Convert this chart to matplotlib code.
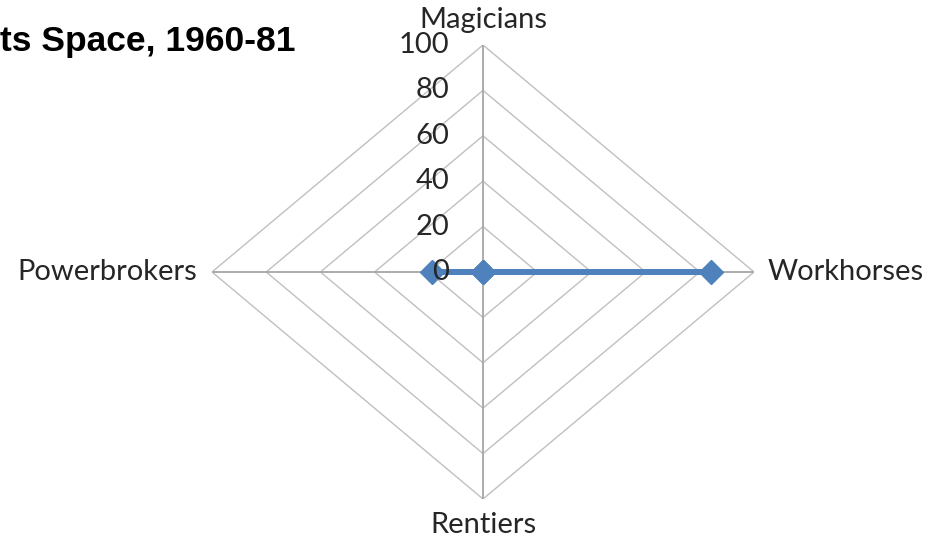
import numpy as np
import matplotlib
matplotlib.use("Agg")
import matplotlib.pyplot as plt

# axis names, clockwise from the top
categories = ["Magicians", "Workhorses", "Rentiers", "Powerbrokers"]
values = [0, 84, 0, 19]
ring_levels = [20, 40, 60, 80, 100]
tick_labels = ["0", "20", "40", "60", "80", "100"]

label_font = "Lato"
label_size = 21
grid_color = "#c0c0c0"
spoke_color = "#a6a6a6"
series_color = "#4f81bd"
text_color = "#262626"

fig = plt.figure(figsize=(9.32, 5.42), dpi=100)
ax = fig.add_axes([212 / 932, 43 / 542, 542 / 932, 454 / 542])
ax.set_xlim(-100, 100)
ax.set_ylim(-100, 100)
ax.axis("off")

# angles: top, right, bottom, left
angles = np.pi / 2 - np.arange(len(categories)) * 2 * np.pi / len(categories)
ux, uy = np.cos(angles), np.sin(angles)
ux[np.abs(ux) < 1e-9] = 0
uy[np.abs(uy) < 1e-9] = 0

# diamond rings
for r in ring_levels:
    xs = np.append(ux * r, ux[0] * r)
    ys = np.append(uy * r, uy[0] * r)
    ax.plot(xs, ys, color=grid_color, lw=1.0, zorder=1)

# spokes
for x, y in zip(ux, uy):
    ax.plot([0, x * 100], [0, y * 100], color=spoke_color, lw=1.3, zorder=1)

# scale labels along the top spoke
for lvl, lab in zip([0] + ring_levels, tick_labels):
    ax.text(-12.5, lvl, lab, ha="right", va="center", fontsize=label_size,
            family=label_font, color=text_color, zorder=4)

# the series
vals = np.array(values, dtype=float)
px = np.append(ux * vals, ux[0] * vals[0])
py = np.append(uy * vals, uy[0] * vals[0])
ax.plot(px, py, color=series_color, lw=4.2, marker="D", markersize=12.5,
        zorder=3, clip_on=False)

# category labels
ax.text(0, 111, categories[0], ha="center", va="center", fontsize=label_size,
        family=label_font, color=text_color)
ax.text(105, 0, categories[1], ha="left", va="center", fontsize=label_size,
        family=label_font, color=text_color)
ax.text(0, -111.5, categories[2], ha="center", va="center", fontsize=label_size,
        family=label_font, color=text_color)
ax.text(-105.5, 0, categories[3], ha="right", va="center", fontsize=label_size,
        family=label_font, color=text_color)

fig.text(0.0, 1 - 41 / 542, "ts Space, 1960-81", ha="left", va="center",
         fontsize=25.5, fontweight="bold", family="Liberation Sans", color="black")

fig.savefig("out.png", dpi=100)
